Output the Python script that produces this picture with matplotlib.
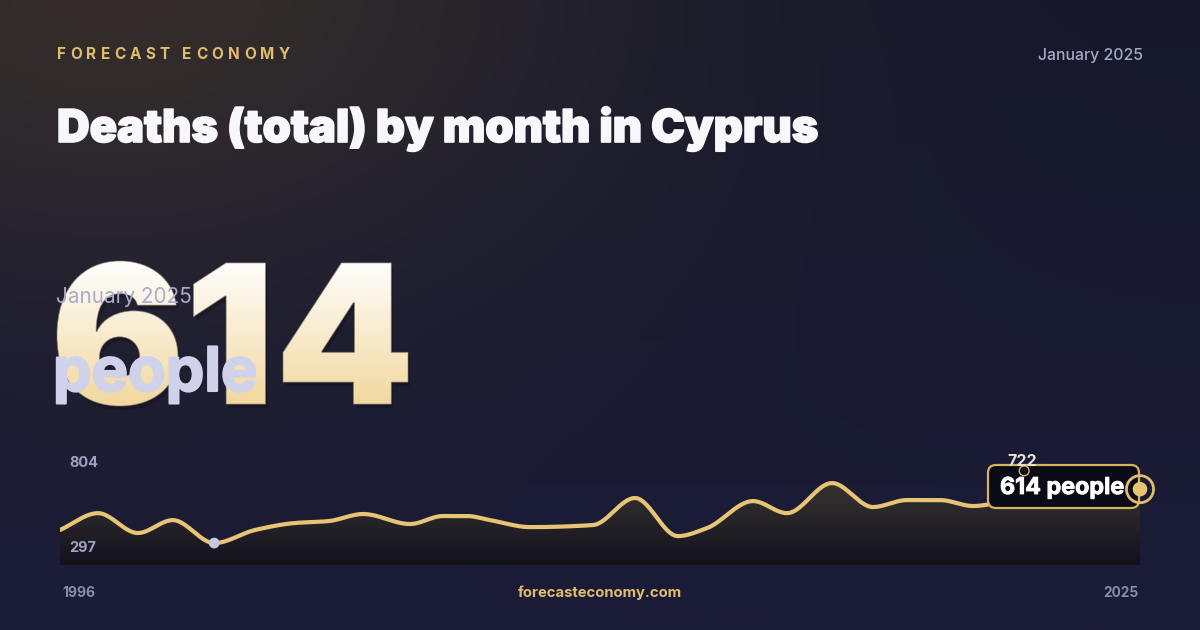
import numpy as np
import matplotlib
matplotlib.use("Agg")
import matplotlib.pyplot as plt
import matplotlib.patheffects as pe
from matplotlib.textpath import TextPath
from matplotlib.font_manager import FontProperties
from matplotlib.patches import PathPatch, FancyBboxPatch
from matplotlib.transforms import Affine2D
from matplotlib.colors import to_rgb

# ---------------- data ----------------
# knot dates (decimal years) and monthly deaths
dates = [1996.00, 1997.02, 1998.09, 1999.03, 2000.14, 2001.24, 2002.31, 2003.20,
         2004.14, 2005.40, 2006.28, 2006.93, 2007.55, 2008.62, 2010.31, 2011.44,
         2012.59, 2013.37, 2014.61, 2015.52, 2016.73, 2017.83, 2018.74, 2019.63,
         2020.52, 2020.97, 2021.89, 2023.52, 2025.00]
deaths = [374, 473, 356, 432, 297, 374, 415, 426,
          468, 409, 456, 456, 432, 391, 403, 562,
          338, 385, 544, 473, 650, 509, 550, 550,
          515, 526, 722, 590, 614]
axis_labels = ["804", "297"]
x_labels = ["1996", "2025"]
latest_value = 614
latest_label = "January 2025"
unit = "people"
title = "Deaths (total) by month in Cyprus"
brand = "FORECAST ECONOMY"
site = "forecasteconomy.com"

W, H = 1200, 630
FONT = "Inter"

fig = plt.figure(figsize=(12, 6.3), dpi=100)
renderer = fig.canvas.get_renderer()

# overlay axes in pixel coordinates
ov = fig.add_axes([0, 0, 1, 1], zorder=0)
ov.set_xlim(0, W)
ov.set_ylim(H, 0)
ov.axis("off")

# ---------------- background ----------------
yy, xx = np.mgrid[0:H, 0:W]
top = np.array(to_rgb("#16182a"))
bot = np.array(to_rgb("#1b1c37"))
t = (yy / H)[..., None]
bg = top * (1 - t) + bot * t
glow_c = np.array(to_rgb("#342d2a")) - top
d2 = ((xx - 110) / 500.0) ** 2 + ((yy + 30) / 320.0) ** 2
bg = bg + glow_c * np.exp(-d2)[..., None]
ov.imshow(np.clip(bg, 0, 1), extent=(0, W, H, 0), origin="upper",
          aspect="auto", zorder=0, interpolation="bilinear")


def fit_text(x, y, s, width, ax=ov, **kw):
    t = ax.text(x, y, s, fontsize=10, **kw)
    w = t.get_window_extent(renderer).width
    t.set_fontsize(10 * width / w)
    return t


def spaced(x, y, s, size, spacing, **kw):
    cx = x
    for ch in s:
        t = ov.text(cx, y, ch, fontsize=size, **kw)
        w = t.get_window_extent(renderer).width if ch != " " else size * 0.35
        cx += w + spacing
    return cx

spaced(57, 59, brand, 11.0, 4.3, color="#e2bd6c", family=FONT,
       fontweight="bold", va="baseline")

fit_text(1143, 60, latest_label, 105, color="#a6a8c4", family=FONT,
         ha="right", va="baseline", fontweight="medium")

fit_text(57, 142, title, 764, color="#f8f8fc", family=FONT,
         fontweight="black", va="baseline",
         path_effects=[pe.withStroke(linewidth=1.2, foreground="#f8f8fc")])

# ---------------- big number with gradient ----------------
fp = FontProperties(family=FONT, weight="black")
tp = TextPath((0, 0), str(latest_value), size=100, prop=fp)
ext = tp.get_extents()
bx0, by0, bx1, by1 = 57, 261, 408, 406
sx = (bx1 - bx0) / ext.width
sy = (by1 - by0) / ext.height
tr = Affine2D().translate(-ext.x0, -ext.y0).scale(sx, -sy).translate(bx0, by1)
big_path = tr.transform_path(tp)
shadow = PathPatch(Affine2D().translate(2, 4).transform_path(big_path),
                   facecolor=(0.03, 0.03, 0.07, 0.28), edgecolor="none", zorder=1)
ov.add_patch(shadow)
clip = PathPatch(big_path, facecolor="none", edgecolor=(0.55, 0.5, 0.42, 0.6),
                 lw=0.7, zorder=3)
ov.add_patch(clip)
g = np.linspace(0, 1, 200)[:, None]
c_top = np.array(to_rgb("#ffffff"))
c_bot = np.array(to_rgb("#f2d79c"))
grad = (c_top * (1 - g[..., None]) + c_bot * g[..., None]) * np.ones((1, 2, 1))
im = ov.imshow(grad, extent=(bx0 - 2, bx1 + 2, by1 + 2, by0 - 2), origin="upper",
               aspect="auto", zorder=2, interpolation="bilinear")
im.set_clip_path(clip)

fit_text(56, 303, latest_label, 136, color="#a9abcb", family=FONT,
         va="baseline", zorder=4)
fit_text(53, 391, unit, 204, color="#cfd2ea", family=FONT,
         fontweight="bold", va="baseline", zorder=4,
         path_effects=[pe.withStroke(linewidth=1.5, foreground="#cfd2ea")])

# ---------------- footer ----------------
fit_text(62, 597, x_labels[0], 33, color="#8a8cab", family=FONT,
         fontweight="bold", va="baseline")
fit_text(1138, 597, x_labels[1], 35, color="#8a8cab", family=FONT,
         fontweight="bold", va="baseline", ha="right")
fit_text(600, 597, site, 164, color="#e2bd6c", family=FONT,
         fontweight="bold", va="baseline", ha="center")

# ---------------- chart ----------------
ax = fig.add_axes([60 / W, (H - 565) / H, 1080 / W, 110 / H], zorder=1)
ax.patch.set_alpha(0)
ax.axis("off")
ax.set_xlim(1996, 2025)
ax.set_ylim(168, 815)
ax.set_autoscale_on(False)


def monotone(x, y, n=40):
    x = np.asarray(x, float); y = np.asarray(y, float)
    h = np.diff(x); d = np.diff(y) / h
    m = np.zeros_like(y)
    m[0], m[-1] = d[0], d[-1]
    for k in range(1, len(x) - 1):
        if d[k - 1] * d[k] <= 0:
            m[k] = 0
        else:
            w1 = 2 * h[k] + h[k - 1]; w2 = h[k] + 2 * h[k - 1]
            m[k] = (w1 + w2) / (w1 / d[k - 1] + w2 / d[k])
    xs, ys = [], []
    for k in range(len(x) - 1):
        tt = np.linspace(0, 1, n, endpoint=False)
        h00 = 2 * tt**3 - 3 * tt**2 + 1; h10 = tt**3 - 2 * tt**2 + tt
        h01 = -2 * tt**3 + 3 * tt**2; h11 = tt**3 - tt**2
        xs.append(x[k] + tt * h[k])
        ys.append(h00 * y[k] + h10 * h[k] * m[k] + h01 * y[k + 1] + h11 * h[k] * m[k + 1])
    xs.append([x[-1]]); ys.append([y[-1]])
    return np.concatenate(xs), np.concatenate(ys)

sx_, sy_ = monotone(dates, deaths)
y0 = ax.get_ylim()[0]
poly = ax.fill_between(sx_, sy_, y0, color="none", lw=0)
gv = np.linspace(0, 1, 200)[:, None]
ftop = np.array(to_rgb("#3e3833"))
fbot = np.array(to_rgb("#12121e"))
fgrad = (ftop * (1 - gv[..., None]) + fbot * gv[..., None]) * np.ones((1, 2, 1))
fim = ax.imshow(fgrad, extent=(1996, 2025, y0, max(deaths)), origin="upper",
                aspect="auto", zorder=1, interpolation="bilinear")
fim.set_clip_path(poly.get_paths()[0], transform=ax.transData)
ax.plot(sx_, sy_, color="#e8c574", lw=3.0, zorder=3, solid_capstyle="round")

# axis extent labels (above fill)
for lbl, yb in zip(axis_labels, [467, 552]):
    ax.text(69, yb, lbl, transform=ov.transData, color="#a0a2bf", family=FONT,
            fontweight="bold", fontsize=10.5, va="baseline", zorder=8, clip_on=False)

# min marker
imin = int(np.argmin(deaths))
ax.scatter([dates[imin]], [deaths[imin]], s=60, color="#c4c7e0", zorder=6,
           edgecolors="none")

# tooltip box (pixel placement)
box = FancyBboxPatch((988, 465), 151, 43, boxstyle="round,pad=0,rounding_size=8",
                     transform=ov.transData, facecolor="#0b0b17", edgecolor="#d6b25c",
                     lw=1.6, zorder=4, clip_on=False)
ax.add_patch(box)
bt = ax.text(1000, 494, f"{latest_value} {unit}", transform=ov.transData,
             color="#ffffff", family=FONT, fontweight="bold", fontsize=10,
             va="baseline", zorder=5, clip_on=False,
             path_effects=[pe.withStroke(linewidth=0.6, foreground="#ffffff")])
bt.set_fontsize(10 * 124 / bt.get_window_extent(renderer).width)

# max marker
imax = int(np.argmax(deaths))
ax.scatter([dates[imax]], [deaths[imax]], s=50, facecolors="none",
           edgecolors="#d6b25c", linewidths=1.0, zorder=6, clip_on=False)
ax.annotate(str(deaths[imax]), xy=(dates[imax], deaths[imax]), xytext=(-2, 9),
            textcoords="offset pixels", ha="center", va="center",
            color="#ece4d2", family=FONT, fontweight="bold", fontsize=11.5,
            zorder=7, annotation_clip=False)

# latest marker
ax.scatter([dates[-1]], [deaths[-1]], s=380, facecolors="none",
           edgecolors="#e2bd6c", linewidths=2.0, zorder=6, clip_on=False)
ax.scatter([dates[-1]], [deaths[-1]], s=110, color="#e8c574", zorder=7,
           edgecolors="none", clip_on=False)

fig.savefig("out.png", dpi=100)
